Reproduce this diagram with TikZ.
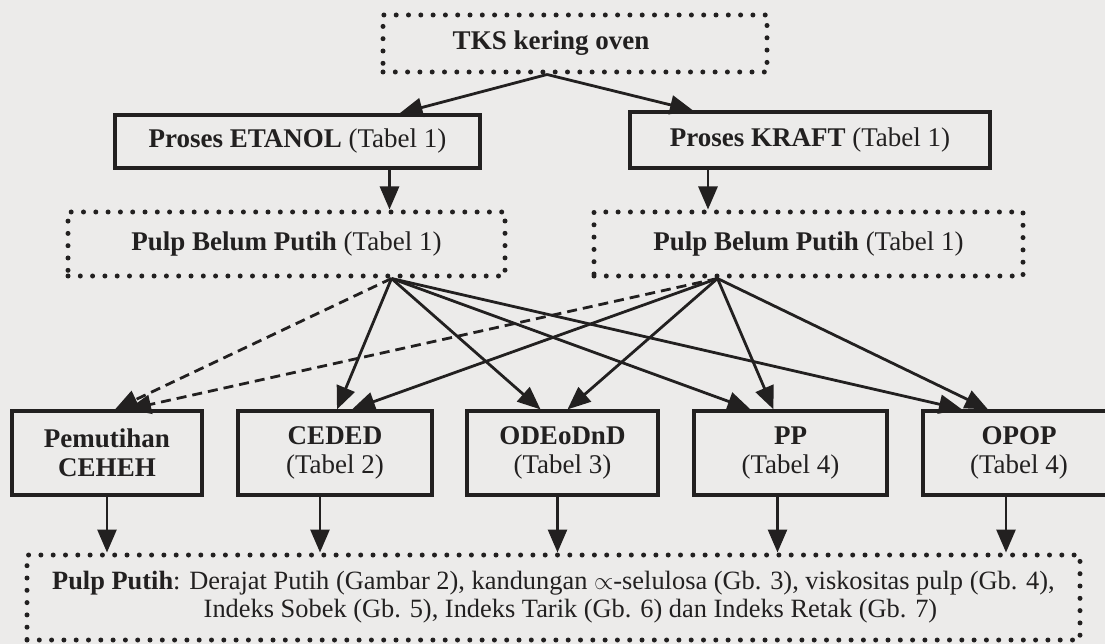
\documentclass[tikz,border=0pt]{standalone}
\usepackage{fontspec}
\setmainfont{Liberation Serif}
\usetikzlibrary{arrows.meta}
\definecolor{ink}{RGB}{34,32,32}
\definecolor{paper}{RGB}{236,235,234}
\begin{document}
\begin{tikzpicture}[x=1pt,y=-1pt,
  every node/.style={text=ink,font=\fontsize{27}{29}\selectfont},
  dotbox/.style={draw=ink,line width=5pt,line cap=round,dash pattern=on 0pt off 12.3pt,inner sep=0pt,align=center},
  solidbox/.style={draw=ink,line width=3.2pt,inner sep=0pt,align=center,minimum height=84pt},
  arr/.style={draw=ink,line width=2.8pt,-{Triangle[length=23pt,width=19pt]}},
  darr/.style={arr,dash pattern=on 10pt off 6pt}]%
% alur percobaan: TKS -> pulping -> pemutihan -> sifat pulp putih
\fill[paper] (0,0) rectangle (1105,644);
\useasboundingbox (0,0) rectangle (1105,644);
\node[dotbox,minimum width=384pt,minimum height=57pt] (tks) at (575,43.5) {\textbf{TKS kering oven}\hspace{48pt}};
\node[solidbox,minimum width=365pt,minimum height=53pt] (etanol) at (297.5,141.5) {\textbf{Proses ETANOL} (Tabel 1)};
\node[solidbox,minimum width=360pt,minimum height=56pt] (kraft) at (810,140) {\textbf{Proses KRAFT} (Tabel 1)};
\node[dotbox,minimum width=437pt,minimum height=64pt] (pbl) at (286.5,244) {\textbf{Pulp Belum Putih} (Tabel 1)};
\node[dotbox,minimum width=429pt,minimum height=64pt] (pbr) at (808.5,244) {\textbf{Pulp Belum Putih} (Tabel 1)};
\node[solidbox,minimum width=190pt] (ceheh) at (107,453) {\textbf{Pemutihan}\\\textbf{CEHEH}};
\node[solidbox,minimum width=194pt] (ceded) at (335,453) {\textbf{CEDED}\\(Tabel 2)};
\node[solidbox,minimum width=191pt] (odeo) at (562.5,453) {\textbf{ODEoDnD}\\(Tabel 3)};
\node[solidbox,minimum width=193pt] (pp) at (790.5,453) {\textbf{PP}\\(Tabel 4)};
\node[solidbox,minimum width=192pt] (opop) at (1019,453) {\textbf{OPOP}\\(Tabel 4)};
\node[dotbox,minimum width=1053pt,minimum height=85pt,font=\fontsize{26.4}{28}\selectfont] (putih) at (553.5,597.5)
  {\textbf{Pulp Putih}: Derajat Putih (Gambar 2), kandungan $\propto$-selulosa (Gb. 3), viskositas pulp (Gb. 4),\\
   \hspace{34pt}Indeks Sobek (Gb. 5), Indeks Tarik (Gb. 6) dan Indeks Retak (Gb. 7)};
\draw[arr] ([xshift=-28pt]tks.south) -- ([xshift=102pt]etanol.north);
\draw[arr] ([xshift=-28pt]tks.south) -- ([xshift=-117pt]kraft.north);
\draw[arr] ([xshift=92pt]etanol.south) -- ([xshift=92pt]etanol.south |- pbl.north);
\draw[arr] ([xshift=-102pt]kraft.south) -- ([xshift=-102pt]kraft.south |- pbr.north);
% dari pulp etanol
\draw[darr] ([xshift=105pt]pbl.south) -- ([xshift=8pt]ceheh.north);
\draw[arr] ([xshift=105pt]pbl.south) -- ([xshift=2pt]ceded.north);
\draw[arr] ([xshift=105pt]pbl.south) -- ([xshift=-22pt]odeo.north);
\draw[arr] ([xshift=105pt]pbl.south) -- ([xshift=-40pt]pp.north);
\draw[arr] ([xshift=105pt]pbl.south) -- ([xshift=-57pt]opop.north);
% dari pulp kraft
\draw[darr] ([xshift=-91pt]pbr.south) -- ([xshift=21pt]ceheh.north);
\draw[arr] ([xshift=-91pt]pbr.south) -- ([xshift=17pt]ceded.north);
\draw[arr] ([xshift=-91pt]pbr.south) -- ([xshift=5pt]odeo.north);
\draw[arr] ([xshift=-91pt]pbr.south) -- ([xshift=-17pt]pp.north);
\draw[arr] ([xshift=-91pt]pbr.south) -- ([xshift=-31pt]opop.north);
% ke pulp putih
\draw[arr] (ceheh.south) -- (ceheh.south |- putih.north);
\draw[arr] ([xshift=-15pt]ceded.south) -- ([xshift=-15pt]ceded.south |- putih.north);
\draw[arr] ([xshift=-5pt]odeo.south) -- ([xshift=-5pt]odeo.south |- putih.north);
\draw[arr] ([xshift=-13pt]pp.south) -- ([xshift=-13pt]pp.south |- putih.north);
\draw[arr] ([xshift=-13pt]opop.south) -- ([xshift=-13pt]opop.south |- putih.north);
\end{tikzpicture}
\end{document}
